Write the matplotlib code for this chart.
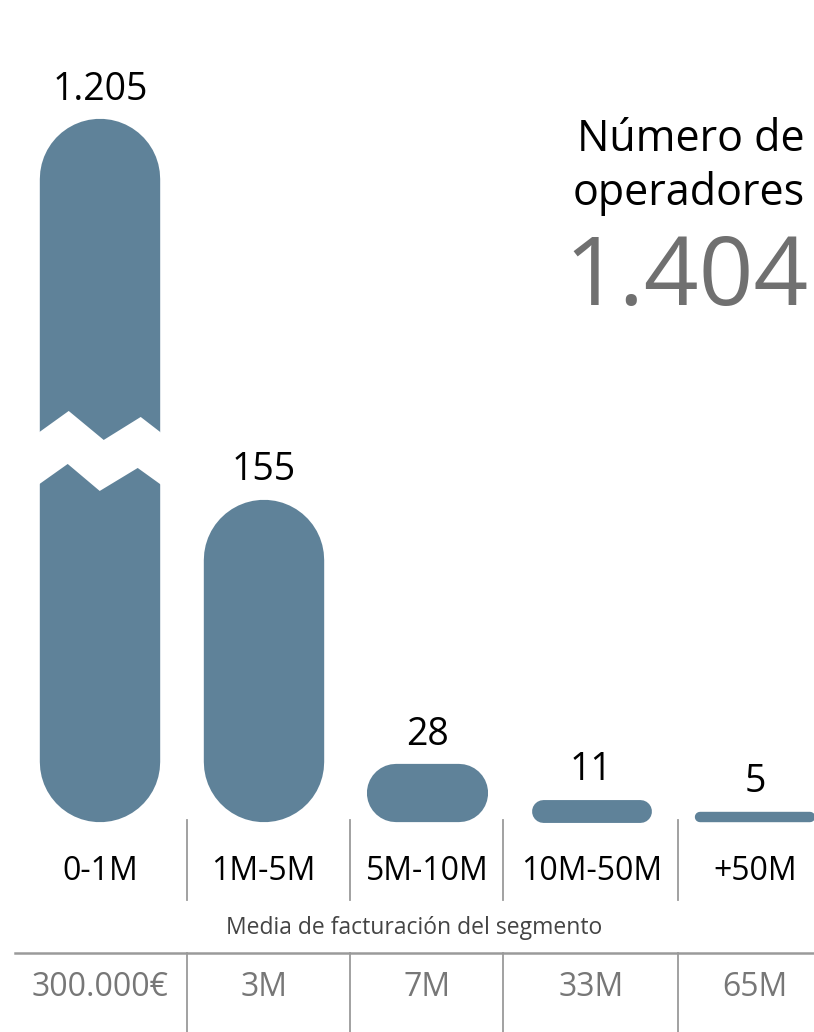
import matplotlib.pyplot as plt
from matplotlib.patches import Polygon
from matplotlib.transforms import IdentityTransform, blended_transform_factory

plt.rcParams['font.family'] = ['Open Sans', 'DejaVu Sans']

# datos
categorias = ['0-1M', '1M-5M', '5M-10M', '10M-50M', '+50M']
operadores = [1205, 155, 28, 11, 5]
etiquetas = ['1.205', '155', '28', '11', '5']
media_facturacion = ['300.000€', '3M', '7M', '33M', '65M']
total_operadores = '1.404'

color_barra = '#5f8299'
tope_visible = 338  # la primera barra se corta (eje roto)
ancho = 0.735

fig = plt.figure(figsize=(8.14, 10.32), dpi=100)
ax = fig.add_axes([0, 0, 1, 1])
ax.set_xlim(-0.61, 4.36)
ax.set_ylim(-101, 395.2)
ax.axis('off')

# pixeles por unidad de datos
(x0, y0), (x1, y1) = ax.transData.transform([(0, 0), (1, 1)])
ppx, ppy = x1 - x0, y1 - y0
pt = 72 / fig.dpi

# barras en forma de cápsula (trazo con extremos redondeados)
for i, v in enumerate(operadores):
    h = min(v, tope_visible)
    w_px, h_px = ancho * ppx, h * ppy
    if h_px >= w_px:
        ry = (w_px / 2) / ppy
        ax.plot([i, i], [ry, h - ry], color=color_barra, lw=w_px * pt,
                solid_capstyle='round')
    else:
        rx = (h_px / 2) / ppx
        ax.plot([i - ancho / 2 + rx, i + ancho / 2 - rx], [h / 2, h / 2], color=color_barra,
                lw=h_px * pt, solid_capstyle='round')
    ax.annotate(etiquetas[i], (i, h), xytext=(0, 21), textcoords='offset points',
                ha='center', va='center', fontsize=27, color='black')

# corte en zigzag de la primera barra
X, Y = ax.transData.transform((-ancho / 2, tope_visible))
corte = [(-3, 315), (29, 292), (64, 321), (101, 298), (123, 315),
         (123, 367), (98, 349), (60, 372), (28, 345), (-3, 367)]
ax.add_patch(Polygon([(X + dx, Y - dy) for dx, dy in corte], closed=True,
                     facecolor='white', edgecolor='none', transform=IdentityTransform(), zorder=5))

# tabla inferior
tr = blended_transform_factory(ax.transData, fig.transFigure)
sep_color = '#9a9a9a'
separadores = [0.53, 1.53, 2.46, 3.53]
for s in separadores:
    ax.plot([s, s], [1 - 820 / 1032, 1 - 900 / 1032], color=sep_color, lw=1.3, transform=tr)
    ax.plot([s, s], [1 - 953 / 1032, 0], color=sep_color, lw=1.3, transform=tr)
ax.plot([-0.52, 4.36], [1 - 953 / 1032, 1 - 953 / 1032], color=sep_color, lw=1.8, transform=tr)

for i, (c, m) in enumerate(zip(categorias, media_facturacion)):
    ax.text(i, 1 - 871 / 1032, c, ha='center', va='center', fontsize=23,
            color='black', transform=tr)
    ax.text(i, 1 - 988 / 1032, m, ha='center', va='center', fontsize=23,
            color='#777777', transform=tr)

fig.text(0.509, 1 - 928 / 1032, 'Media de facturación del segmento', ha='center', va='center',
         fontsize=16.5, color='#444444')

# título y total
fig.text(0.989, 1 - 140 / 1032, 'Número de', ha='right', va='center', fontsize=31, color='black')
fig.text(0.989, 1 - 193 / 1032, 'operadores', ha='right', va='center', fontsize=31, color='black')
fig.text(0.994, 1 - 280 / 1032, total_operadores, ha='right', va='center', fontsize=69, color='#707070')

fig.savefig('out.png', dpi=100)
